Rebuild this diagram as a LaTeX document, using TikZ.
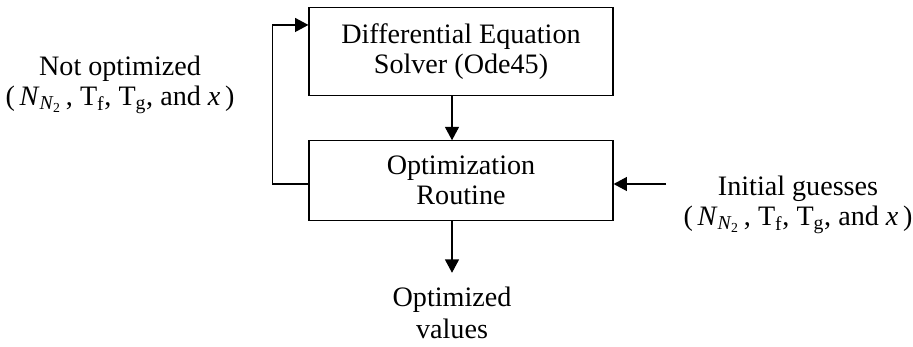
\documentclass[tikz,border=0pt]{standalone}
\usepackage{fontspec}
\setmainfont{Liberation Serif}
\usetikzlibrary{arrows.meta}
\newcommand{\params}{(\,\textit{N}\textsubscript{\textit{N}\textsubscript{\kern-.5pt2}}\,, T\textsubscript{f}, T\textsubscript{g}, and \textit{x}\,)}
\begin{document}
\begin{tikzpicture}[x=0.75pt,y=-0.75pt,
  every node/.style={font=\fontsize{21.1}{22.8}\selectfont, align=center, inner sep=0pt},
  blk/.style={draw, line width=0.9pt, minimum width=228pt},
  conn/.style={line width=0.9pt, -{Triangle[length=10pt,width=10.5pt]}}]
\useasboundingbox (0,0) rectangle (913,346);
\node[blk, minimum height=66.5pt] (top) at (461,51.5) {Differential Equation\\Solver (Ode45)};
\node[blk, minimum height=59.5pt] (bot) at (461,180.5) {Optimization\\Routine};
\node[font=\fontsize{21.1}{24.5}\selectfont] (out) at (452,313) {Optimized\\values};
\node (left) at (120,85) {Not optimized\\\params};
\node (right) at (798,205) {Initial guesses\\\params};
\coordinate (rin) at (666,184);
\draw[conn] ([xshift=-6.75pt]top.south) -- ([xshift=-6.75pt]bot.north);
\draw[conn] ([xshift=-6.75pt]bot.south) -- ++(0,-39pt);
\draw[conn] (rin) -- (bot.east |- rin);
\draw[conn] ([yshift=-2.6pt]bot.west) -- ++(-27pt,0) |- ([yshift=19.9pt]top.west);
\end{tikzpicture}
\end{document}
